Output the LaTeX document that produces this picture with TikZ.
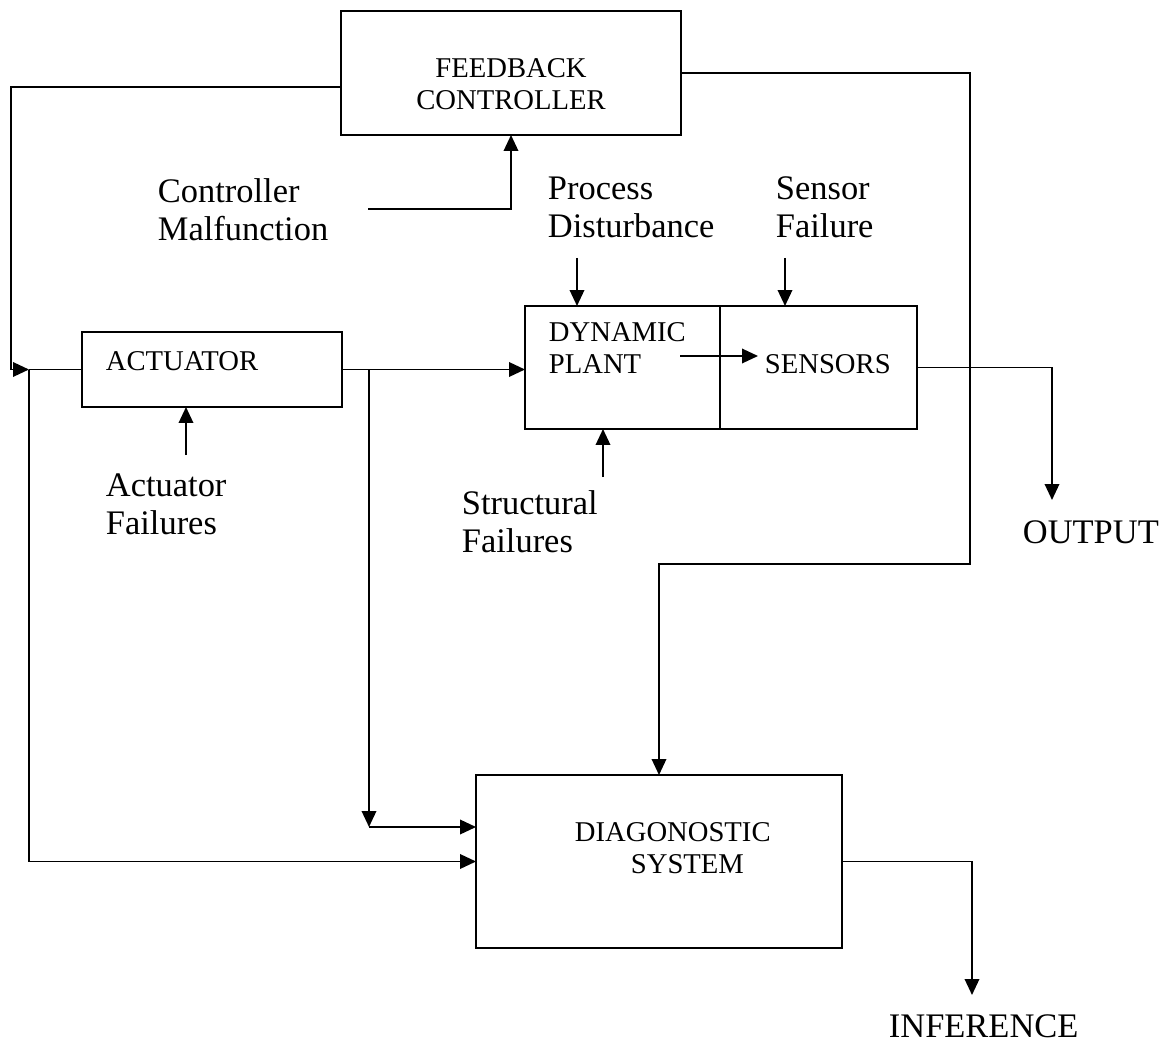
\documentclass[tikz,border=0pt]{standalone}
\usepackage{fontspec}
\setmainfont{Liberation Serif}
\usetikzlibrary{arrows.meta}
\usetikzlibrary{positioning}
\newcommand{\boxfont}{\fontsize{16.3}{18.2}\selectfont}
\newcommand{\labfont}{\fontsize{19.6}{21.6}\selectfont}

\begin{document}
\begin{tikzpicture}[x=0.02cm, y=-0.02cm, line width=1.1pt]
\tikzstyle{block} = [rectangle, draw=black, line width=1.1pt, inner sep=0pt, outer sep=0pt]
\tikzstyle{boxtext} = [inner sep=0pt, font=\boxfont]
\tikzstyle{fault} = [inner sep=0pt, font=\labfont, align=left, anchor=west]
\tikzstyle{arrow} = [line width=1.1pt, -{Triangle[length=0.32cm, width=0.29cm]}]

\useasboundingbox (0,0) rectangle (1170,1044);

% Nodes
\node (fb) [block, minimum width=6.8cm, minimum height=2.48cm] at (511,73) {};
\node (fbtxt) [boxtext, align=center] at (511,84.5) {FEEDBACK\\CONTROLLER};
\node (act) [block, minimum width=5.2cm, minimum height=1.5cm] at (212,369.5) {};
\node (acttxt) [boxtext, anchor=base west] at (105,370) {ACTUATOR};
\node (plant) [block, minimum width=3.9cm, minimum height=2.46cm] at (622.5,367.5) {};
\node (sens) [block, minimum width=3.94cm, minimum height=2.46cm, right=0pt of plant] {};
\node (planttxt) [boxtext, align=left, anchor=west] at (548,348.5) {DYNAMIC\\PLANT};
\node (senstxt) [boxtext, anchor=base west] at (764,373) {SENSORS};
\node (diag) [block, minimum width=7.32cm, minimum height=3.46cm] at (659,861.5) {};
\node (diagtxt) [boxtext, align=left, anchor=west] at (574,848.5) {DIAGONOSTIC\\\hspace*{1.12cm}SYSTEM};

\node (ctrlmal) [fault] at (157,210) {Controller\\Malfunction};
\node (procdist) [fault] at (547,207.6) {Process\\Disturbance};
\node (sensfail) [fault] at (775,207.6) {Sensor\\Failure};
\node (actfail) [fault] at (105,504.6) {Actuator\\Failures};
\node (strucfail) [fault] at (461,522) {Structural\\Failures};
\node (output) [inner sep=0pt, font=\labfont, anchor=base west] at (1022,543) {OUTPUT};
\node (inference) [inner sep=0pt, font=\labfont, anchor=base west] at (888,1037) {INFERENCE};

\coordinate (fbl) at (341,87);
\coordinate (lc) at (11,369.5);
\coordinate (jl) at (29,369.5);
\coordinate (jm) at (369,369.5);
\coordinate (jmc) at (369,827);
\coordinate (rt) at (970,564);
\coordinate (outp) at (1052,500);
\coordinate (infp) at (972,995);
\coordinate (cm) at (368,209);
\coordinate (pd) at (577,258);
\coordinate (sf) at (785,258);
\coordinate (st) at (603,477);
\coordinate (af) at (186,455);
\coordinate (ia) at (680,356);

% Arrows
\draw [arrow] (fbl) -| (lc) -- (jl);
\draw (jl) -- (act.west);
\draw [arrow] (act.east) -- (act.east -| plant.west);
\draw [arrow] (jl) |- (diag.west);
\draw [arrow] (jm) -- (jmc);
\draw [arrow] (jmc) -- (jmc -| diag.west);
\draw [arrow] (cm) -| (fb.south);
\draw [arrow] (fb.east) -| (rt) -| (diag.north);
\draw [arrow] (sens.east) -| (outp);
\draw [arrow] (diag.east) -| (infp);
\draw [arrow] (pd) -- (pd |- plant.north);
\draw [arrow] (sf) -- (sf |- sens.north);
\draw [arrow] (st) -- (st |- plant.south);
\draw [arrow] (af) -- (af |- act.south);
\draw [arrow, shorten >=0.12cm] (ia) -- (senstxt.west |- ia);

\end{tikzpicture}
\end{document}
